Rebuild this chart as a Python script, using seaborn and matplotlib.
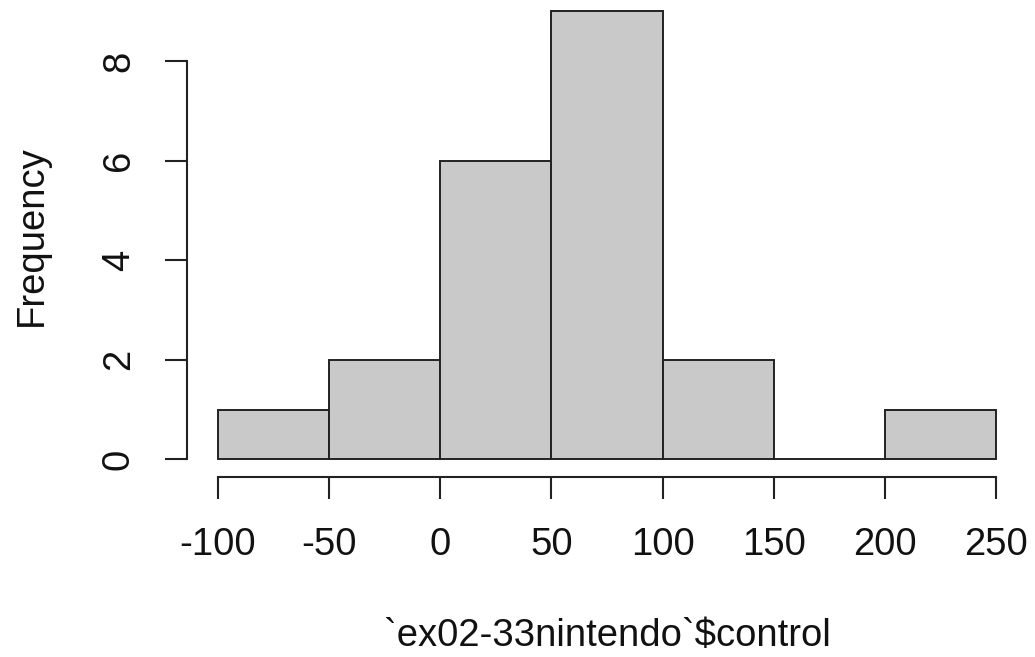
import numpy as np
import pandas as pd
import matplotlib
matplotlib.use("Agg")
import matplotlib.pyplot as plt
import seaborn as sns

# histogram bins and counts
bin_edges = [-100, -50, 0, 50, 100, 150, 200, 250]
counts = [1, 2, 6, 9, 2, 0, 1]
x_ticks = [-100, -50, 0, 50, 100, 150, 200, 250]
y_ticks = [0, 2, 4, 6, 8]

centers = [(a + b) / 2 for a, b in zip(bin_edges[:-1], bin_edges[1:])]
df = pd.DataFrame({"control": centers, "n": counts})

sns.set_style("white")
plt.rcParams["font.family"] = ["Liberation Sans", "DejaVu Sans"]

fig = plt.figure(figsize=(10.35, 6.57), dpi=100)
ax = fig.add_axes([0.1806, 0.2734, 0.8118, 0.7368])

sns.histplot(data=df, x="control", weights="n", bins=bin_edges, ax=ax,
             color="#C9C9C9", edgecolor="#222222", linewidth=1.4, alpha=1)

ax.set_xlim(-114, 264)
ax.set_ylim(-0.36, 9.36)
ax.set_xticks(x_ticks)
ax.set_yticks(y_ticks)
ax.set_xticklabels([str(v) for v in x_ticks])
ax.set_yticklabels([str(v) for v in y_ticks])

for s in ["top", "right"]:
    ax.spines[s].set_visible(False)
ax.spines["bottom"].set_bounds(-100, 250)
ax.spines["left"].set_bounds(0, 8)
for s in ["bottom", "left"]:
    ax.spines[s].set_color("#222222")
    ax.spines[s].set_linewidth(1.5)

ax.tick_params(axis="both", direction="out", length=16, width=1.5,
               color="#222222", labelsize=27.5, labelcolor="#111111")
ax.tick_params(axis="x", pad=20, bottom=True)
ax.tick_params(axis="y", pad=20, left=True, labelrotation=90)
for lab in ax.get_yticklabels():
    lab.set_va("center")

ax.set_xlabel("`ex02-33nintendo`$control", fontsize=27.5, color="#111111", va="center")
ax.set_ylabel("Frequency", fontsize=27.5, color="#111111", va="center")
ax.xaxis.set_label_coords(0.5, (0.0320 - 0.2734) / 0.7368)
ax.yaxis.set_label_coords((32 - 186.9) / 840.2, 0.5)

fig.savefig("out.png", dpi=100)
